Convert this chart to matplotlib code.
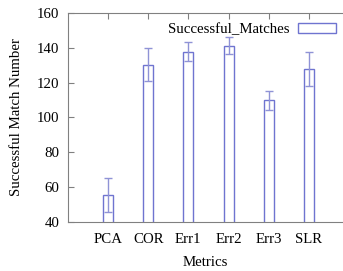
import numpy as np
import matplotlib.pyplot as plt

# Adatok
metrics = ["PCA", "COR", "Err1", "Err2", "Err3", "SLR"]
matches = [55.5, 130.3, 137.8, 141.2, 109.8, 127.8]
errors = [10.0, 9.4, 5.5, 5.0, 5.6, 9.8]

plt.rcParams['font.family'] = ['Liberation Serif', 'DejaVu Serif']
plt.rcParams['font.size'] = 10.7

fig = plt.figure(figsize=(3.43, 2.71), dpi=100)
ax = fig.add_axes([0.198, 0.181, 0.802, 0.771])

x = np.arange(1, len(metrics) + 1)
ax.bar(x, matches, width=0.25, bottom=0, facecolor='white', edgecolor='#6f74d0',
       linewidth=1.0, label='Successful_Matches', zorder=2)
ax.errorbar(x, matches, yerr=errors, fmt='none', ecolor='#8f93d6', elinewidth=1.0,
            capsize=3, capthick=1.0, zorder=3)

ax.set_xlim(0, 6.85)
ax.set_ylim(40, 160)
ax.set_xticks(x)
ax.set_xticklabels(metrics)
ax.set_yticks(range(40, 161, 20))

for s in ['left', 'bottom', 'top']:
    ax.spines[s].set_color('#808080')
ax.spines['right'].set_visible(False)
ax.tick_params(axis='x', direction='in', top=True, color='#808080', length=4, pad=8)
ax.tick_params(axis='y', direction='in', color='#808080', length=4, pad=6)

ax.set_xlabel("Metrics", labelpad=7)
ax.set_ylabel("Successful Match Number", labelpad=10)

leg = ax.legend(loc='upper right', frameon=False, markerfirst=False,
                handlelength=2.6, handleheight=0.6, borderaxespad=0.3,
                handletextpad=0.55, bbox_to_anchor=(1.013, 1.0))

plt.savefig("out.png", dpi=100)
